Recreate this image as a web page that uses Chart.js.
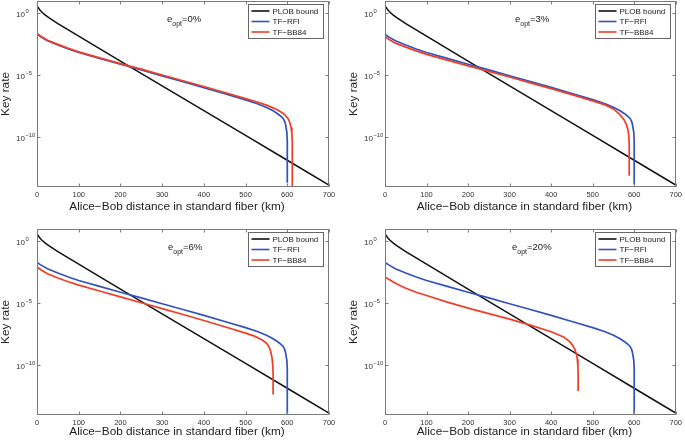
<!DOCTYPE html>
<html><head><meta charset="utf-8">
<script src="https://cdn.jsdelivr.net/npm/chart.js@4.4.1/dist/chart.umd.min.js"></script>
<style>
html,body{margin:0;padding:0;background:#fff}
body{width:685px;height:440px;position:relative;overflow:hidden}
canvas{position:absolute}
</style></head><body>
<canvas id="c1" width="342" height="220" style="left:0;top:0"></canvas>
<canvas id="c2" width="343" height="220" style="left:342px;top:0"></canvas>
<canvas id="c3" width="342" height="220" style="left:0;top:220px"></canvas>
<canvas id="c4" width="343" height="220" style="left:342px;top:220px"></canvas>
<script>
// ---- tick labels ----
const xTickValues = [0, 100, 200, 300, 400, 500, 600, 700];
const yTickValues = [1, 1e-5, 1e-10];
const yTickExponents = ['0', '\u22125', '\u221210'];
const seriesNames = ['PLOB bound', 'TF\u2212RFI', 'TF\u2212BB84'];
const panelErrors = ['0%', '3%', '6%', '20%'];

// ---- PLOB bound (same in all panels) ----
const distPLOB = [0, 3, 7, 12, 20, 30, 40, 50, 75, 100, 150, 200, 300, 400, 500, 600, 700];
const ratePLOB = [3.5, 2.95, 1.86, 1.23, 0.733, 0.417, 0.248, 0.152, 0.046, 1.45e-2, 1.44e-3, 1.44e-4, 1.44e-6, 1.44e-8, 1.44e-10, 1.44e-12, 1.44e-14];

// ---- TF-RFI ----
const distRFI = [0, 10, 25, 50, 75, 100, 150, 200, 250, 300, 350, 400, 450, 500, 530, 550, 565, 575, 583, 590, 594, 596, 599, 600, 600];
const rateRFI_0 = [2.1e-2, 1.26e-2, 6.3e-3, 2.8e-3, 1.35e-3, 7.1e-4, 2.3e-4, 7.9e-5, 2.7e-5, 8.9e-6, 3.1e-6, 1.0e-6, 3.3e-7, 1.05e-7, 5.0e-8, 2.6e-8, 1.48e-8, 8.9e-9, 5.6e-9, 3.4e-9, 1.9e-9, 1.0e-9, 2.5e-10, 5.0e-11, 2.2e-14];
const rateRFI_3 = [2.0e-2, 1.22e-2, 6.2e-3, 2.8e-3, 1.35e-3, 7.1e-4, 2.35e-4, 8.0e-5, 2.8e-5, 9.3e-6, 3.2e-6, 1.07e-6, 3.5e-7, 1.12e-7, 5.2e-8, 2.7e-8, 1.5e-8, 9.0e-9, 5.6e-9, 3.4e-9, 1.9e-9, 1.0e-9, 2.5e-10, 5.0e-11, 1.6e-14];
const rateRFI_6 = [2.0e-2, 1.22e-2, 6.2e-3, 2.8e-3, 1.35e-3, 7.1e-4, 2.35e-4, 8.0e-5, 2.8e-5, 9.3e-6, 3.2e-6, 1.07e-6, 3.5e-7, 1.12e-7, 5.2e-8, 2.7e-8, 1.5e-8, 9.0e-9, 5.6e-9, 3.4e-9, 1.9e-9, 1.0e-9, 2.5e-10, 5.0e-11, 1.0e-14];
const rateRFI_20 = [2.0e-2, 1.22e-2, 6.2e-3, 2.8e-3, 1.35e-3, 7.1e-4, 2.35e-4, 8.0e-5, 2.8e-5, 9.3e-6, 3.2e-6, 1.07e-6, 3.5e-7, 1.12e-7, 5.2e-8, 2.7e-8, 1.5e-8, 9.0e-9, 5.6e-9, 3.4e-9, 1.9e-9, 1.0e-9, 2.5e-10, 5.0e-11, 1.2e-14];

// ---- TF-BB84 ----
const distBB84_0 = [0, 10, 25, 50, 75, 100, 150, 200, 250, 300, 350, 400, 450, 500, 530, 550, 570, 585, 595, 602, 606, 609, 611, 612, 612];
const rateBB84_0 = [2.4e-2, 1.38e-2, 6.9e-3, 3.2e-3, 1.5e-3, 7.9e-4, 2.6e-4, 8.9e-5, 3.2e-5, 1.07e-5, 3.7e-6, 1.26e-6, 4.2e-7, 1.35e-7, 6.8e-8, 4.0e-8, 2.1e-8, 1.12e-8, 6.3e-9, 3.2e-9, 1.6e-9, 6.3e-10, 2.0e-10, 4.0e-11, 1.0e-14];
const distBB84_3 = [0, 10, 25, 50, 75, 100, 150, 200, 250, 300, 350, 400, 450, 500, 530, 550, 565, 575, 581, 585, 587, 588, 588];
const rateBB84_3 = [1.32e-2, 7.9e-3, 4.0e-3, 1.9e-3, 9.5e-4, 5.0e-4, 1.7e-4, 5.9e-5, 2.1e-5, 7.4e-6, 2.5e-6, 8.5e-7, 2.8e-7, 8.9e-8, 4.2e-8, 2.0e-8, 7.1e-9, 2.8e-9, 1.12e-9, 4.0e-10, 1.26e-10, 2.5e-11, 7.9e-14];
const distBB84_6 = [0, 10, 25, 50, 75, 100, 150, 200, 250, 300, 350, 400, 450, 500, 520, 540, 550, 556, 560, 563, 565, 566, 566];
const rateBB84_6 = [8.9e-3, 5.0e-3, 2.5e-3, 1.12e-3, 5.6e-4, 3.0e-4, 1.0e-4, 3.4e-5, 1.12e-5, 3.8e-6, 1.26e-6, 4.2e-7, 1.32e-7, 4.0e-8, 2.4e-8, 1.12e-8, 6.3e-9, 3.2e-9, 1.4e-9, 5.0e-10, 1.26e-10, 2.5e-11, 4.5e-13];
const distBB84_20 = [0, 10, 25, 50, 75, 100, 150, 200, 250, 300, 350, 400, 430, 445, 452, 457, 461, 463, 464.5, 465, 465];
const rateBB84_20 = [1.38e-3, 8.3e-4, 4.2e-4, 1.66e-4, 7.9e-5, 4.3e-5, 1.26e-5, 4.2e-6, 1.48e-6, 5.4e-7, 1.78e-7, 5.2e-8, 2.0e-8, 7.9e-9, 4.0e-9, 2.0e-9, 7.9e-10, 3.2e-10, 7.9e-11, 1.6e-11, 8.5e-13];

const FAM = '"Liberation Sans", Arial, Helvetica, sans-serif';
const COL_PLOB = '#111111', COL_RFI = 'rgb(50,82,192)', COL_BB84 = 'rgb(238,62,40)';
const COLS = [COL_PLOB, COL_RFI, COL_BB84];

function pts(d, r) { return d.map((x, i) => ({x: x, y: r[i]})); }

function decoPlugin(p) {
  return {
    id: 'deco',
    afterDraw(chart) {
      const ctx = chart.ctx, ca = chart.chartArea, xs = chart.scales.x, ys = chart.scales.y;
      const L = Math.round(ca.left) + 0.5, T = Math.round(ca.top) + 0.5;
      const R = Math.round(ca.right) - 0.5, B = Math.round(ca.bottom) - 0.5;
      ctx.save();
      ctx.strokeStyle = '#7a7a7a'; ctx.lineWidth = 1;
      ctx.strokeRect(L, T, R - L, B - T);
      ctx.beginPath();
      xTickValues.forEach(v => {
        const px = Math.round(xs.getPixelForValue(v)) + 0.5;
        ctx.moveTo(px, B); ctx.lineTo(px, B - 3);
        ctx.moveTo(px, T); ctx.lineTo(px, T + 3);
      });
      yTickValues.forEach(v => {
        const py = Math.round(ys.getPixelForValue(v)) + 0.5;
        ctx.moveTo(L, py); ctx.lineTo(L + 3, py);
        ctx.moveTo(R, py); ctx.lineTo(R - 3, py);
      });
      ctx.stroke();
      ctx.fillStyle = '#333'; ctx.textBaseline = 'middle'; ctx.textAlign = 'left';
      yTickValues.forEach((v, i) => {
        const py = ys.getPixelForValue(v);
        const x0 = ca.left - 21;
        ctx.font = '8px ' + FAM;
        ctx.fillText('10', x0, py + 1.5);
        const w = ctx.measureText('10').width;
        ctx.font = '5.8px ' + FAM;
        ctx.fillText(yTickExponents[i], x0 + w + 0.5, py - 2.2);
      });
      ctx.fillStyle = '#222';
      ctx.font = '11.8px ' + FAM;
      ctx.textAlign = 'center'; ctx.textBaseline = 'middle';
      ctx.fillText('Alice\u2212Bob distance in standard fiber (km)', (ca.left + ca.right) / 2 - 6, ca.bottom + p.xTitleOff);
      ctx.save();
      ctx.translate(ca.left - 31, (ca.top + ca.bottom) / 2);
      ctx.rotate(-Math.PI / 2);
      ctx.fillText('Key rate', 0, 0);
      ctx.restore();
      ctx.textAlign = 'left'; ctx.textBaseline = 'middle'; ctx.fillStyle = '#222';
      let ax = ca.left + p.annOff, ay = ca.top + 18;
      ctx.font = '9.5px ' + FAM; ctx.fillText('e', ax, ay); ax += ctx.measureText('e').width;
      ctx.font = '7px ' + FAM; ctx.fillText('opt', ax, ay + 5); ax += ctx.measureText('opt').width;
      ctx.font = '9.5px ' + FAM; ctx.fillText('=' + p.err, ax, ay);
      const bw = 75, bh = 34;
      const bx = Math.round(ca.right - 6 - bw) + 0.5, by = Math.round(ca.top + 3) + 0.5;
      ctx.fillStyle = '#fff'; ctx.fillRect(bx, by, bw, bh);
      ctx.strokeStyle = '#666'; ctx.lineWidth = 1; ctx.strokeRect(bx, by, bw, bh);
      ctx.font = '8px ' + FAM; ctx.fillStyle = '#222';
      seriesNames.forEach((n, i) => {
        const ry = by + 6.5 + i * 10.5;
        ctx.strokeStyle = COLS[i]; ctx.lineWidth = 1.6;
        ctx.beginPath(); ctx.moveTo(bx + 3, ry); ctx.lineTo(bx + 21, ry); ctx.stroke();
        ctx.fillText(n, bx + 24, ry + 0.5);
      });
      ctx.restore();
    }
  };
}

function makeChart(id, p) {
  const ds = [
    {label: seriesNames[2], data: pts(p.bbD, p.bbR), borderColor: COL_BB84, borderWidth: 1.7},
    {label: seriesNames[1], data: pts(distRFI, p.rfiR), borderColor: COL_RFI, borderWidth: 1.7},
    {label: seriesNames[0], data: pts(distPLOB, ratePLOB), borderColor: COL_PLOB, borderWidth: 1.5}
  ];
  return new Chart(document.getElementById(id), {
    type: 'line',
    data: {datasets: ds},
    options: {
      responsive: false, animation: false, parsing: false,
      layout: {padding: {left: 0, top: p.pt, right: p.pr, bottom: 0}},
      plugins: {legend: {display: false}, tooltip: {enabled: false}},
      elements: {point: {radius: 0}, line: {tension: 0, fill: false}},
      scales: {
        x: {type: 'linear', min: 0, max: 700,
            afterBuildTicks: s => { s.ticks = xTickValues.map(v => ({value: v})); },
            ticks: {font: {size: 7.5, family: FAM}, color: '#333', padding: 3, maxRotation: 0, autoSkip: false},
            grid: {display: false, drawTicks: false}, border: {display: false},
            afterFit: s => { s.height = p.hb; }},
        y: {type: 'logarithmic', min: 1e-14, max: 10,
            ticks: {display: false}, grid: {display: false, drawTicks: false}, border: {display: false},
            afterFit: s => { s.width = p.wl; }}
      }
    },
    plugins: [decoPlugin(p)]
  });
}

makeChart('c1', {bbD: distBB84_0, bbR: rateBB84_0, rfiR: rateRFI_0, err: panelErrors[0], wl: 37, pt: 1, pr: 13, hb: 33, xTitleOff: 20, annOff: 130});
makeChart('c2', {bbD: distBB84_3, bbR: rateBB84_3, rfiR: rateRFI_3, err: panelErrors[1], wl: 43, pt: 1, pr: 8, hb: 33, xTitleOff: 20, annOff: 130});
makeChart('c3', {bbD: distBB84_6, bbR: rateBB84_6, rfiR: rateRFI_6, err: panelErrors[2], wl: 37, pt: 9, pr: 13, hb: 25, xTitleOff: 17, annOff: 131});
makeChart('c4', {bbD: distBB84_20, bbR: rateBB84_20, rfiR: rateRFI_20, err: panelErrors[3], wl: 43, pt: 9, pr: 8, hb: 25, xTitleOff: 17, annOff: 127});
</script>
</body></html>
